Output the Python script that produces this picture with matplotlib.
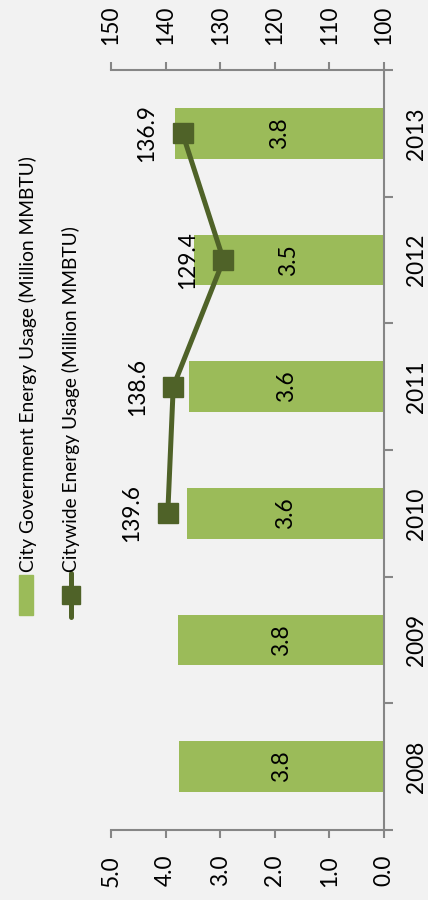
import matplotlib
matplotlib.use('Agg')
import matplotlib.pyplot as plt
from matplotlib.patches import Rectangle
from matplotlib.lines import Line2D
import numpy as np

years = ['2008', '2009', '2010', '2011', '2012', '2013']
city_gov = [3.76, 3.77, 3.60, 3.57, 3.48, 3.83]
city_gov_labels = ['3.8', '3.8', '3.6', '3.6', '3.5', '3.8']
citywide = [np.nan, np.nan, 139.6, 138.6, 129.4, 136.9]
gov_ticks = [0.0, 1.0, 2.0, 3.0, 4.0, 5.0]
wide_ticks = [100, 110, 120, 130, 140, 150]

bar_color = '#9BBB59'
line_color = '#4F6228'
axis_color = '#868686'
bg = '#F2F2F2'

plt.rcParams['font.family'] = ['Lato', 'DejaVu Sans']
fs = 16.3
legend_fs = 13.8

W, H = 428, 900
fig = plt.figure(figsize=(W / 100, H / 100), dpi=100, facecolor=bg)


def px(x0, y0, x1, y1):
    # pixel box (from top-left) -> figure fraction rect
    return [x0 / W, 1 - y1 / H, (x1 - x0) / W, (y1 - y0) / H]


# chart is drawn turned on its side: categories run bottom -> top
ax = fig.add_axes(px(111, 70, 384, 830))
ax.set_facecolor('none')
pos = np.arange(len(years))
ax.barh(pos, city_gov, height=0.4, color=bar_color, edgecolor='none')
ax.set_xlim(5, 0)
ax.set_ylim(-0.5, len(years) - 0.5)

for p, v, lbl in zip(pos, city_gov, city_gov_labels):
    ax.text(v / 2, p, lbl, rotation=90, ha='center', va='center', fontsize=fs)

for s in ['left', 'top']:
    ax.spines[s].set_visible(False)
for s in ['bottom', 'right']:
    ax.spines[s].set_color(axis_color)
    ax.spines[s].set_linewidth(1.5)

ax.set_xticks(gov_ticks)
ax.set_xticklabels([f'{t:.1f}' for t in gov_ticks])
ax.tick_params(axis='x', direction='out', length=6, width=1.5, color=axis_color,
               labelrotation=90, labelsize=fs, pad=12)

ax.yaxis.tick_right()
ax.set_yticks(pos)
ax.set_yticklabels(years)
ax.set_yticks(np.arange(-0.5, len(years)), minor=True)
ax.tick_params(axis='y', which='major', length=0, labelrotation=90, labelsize=fs, pad=16)
ax.tick_params(axis='y', which='minor', direction='out', length=6.5, width=1.5, color=axis_color)
for lbl in ax.get_yticklabels():
    lbl.set_va('center')

ax2 = ax.twiny()
ax2.set_xlim(150, 100)
ax2.set_xticks(wide_ticks)
ax2.set_xticklabels([str(t) for t in wide_ticks])
for s in ['left', 'right', 'bottom']:
    ax2.spines[s].set_visible(False)
ax2.spines['top'].set_color(axis_color)
ax2.spines['top'].set_linewidth(1.5)
ax2.tick_params(axis='x', direction='out', length=6, width=1.5, color=axis_color,
                labelrotation=90, labelsize=fs, pad=12)

ax2.plot(citywide, pos, color=line_color, lw=3.6, marker='s', ms=14)
for p, v in zip(pos, citywide):
    if not np.isnan(v):
        ax2.annotate(f'{v:.1f}', (v, p), xytext=(-26, 0), textcoords='offset points',
                     rotation=90, ha='center', va='center', fontsize=fs)

# legend, drawn by hand so it can be turned like the rest
fig.patches.append(Rectangle((19 / W, 1 - 615 / H), 14 / W, 40 / H,
                             transform=fig.transFigure, color=bar_color))
fig.lines.append(Line2D([71 / W, 71 / W], [1 - 617 / H, 1 - 573 / H], transform=fig.transFigure,
                        color=line_color, lw=3.6, solid_capstyle='round'))
fig.lines.append(Line2D([71 / W], [1 - 595 / H], transform=fig.transFigure,
                        color=line_color, marker='s', ms=12.5))
fig.text(28 / W, 1 - 572 / H, 'City Government Energy Usage (Million MMBTU)',
         rotation=90, ha='center', va='bottom', fontsize=legend_fs)
fig.text(71 / W, 1 - 572 / H, 'Citywide Energy Usage (Million MMBTU)',
         rotation=90, ha='center', va='bottom', fontsize=legend_fs)

fig.savefig('out.png', dpi=100, facecolor=bg)
